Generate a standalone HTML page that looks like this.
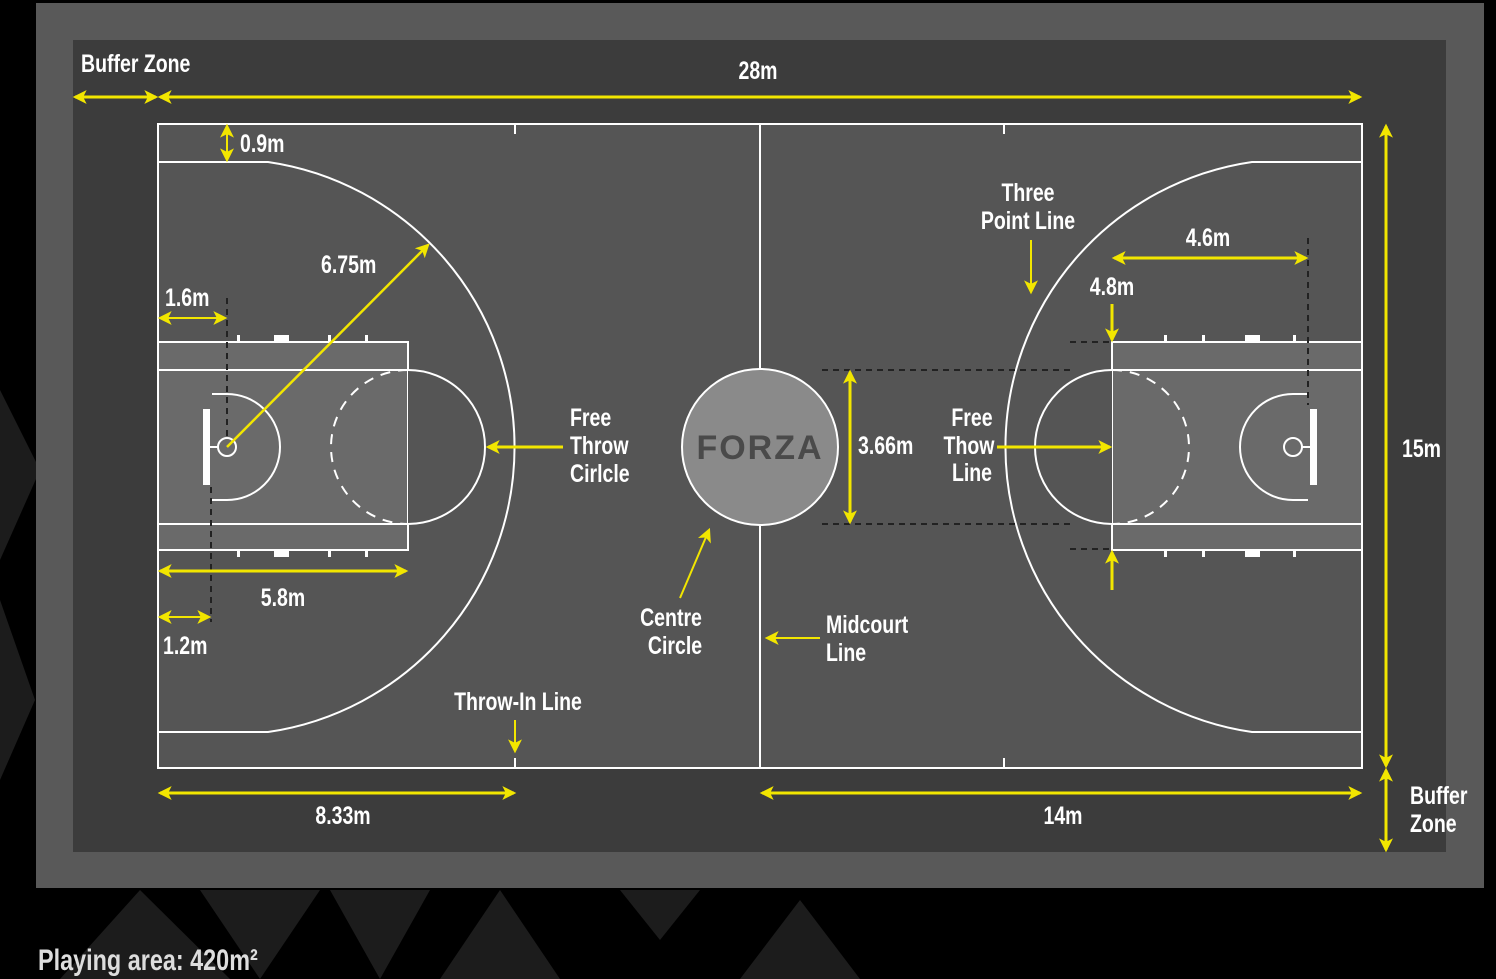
<!DOCTYPE html>
<html><head><meta charset="utf-8"><style>
html,body{margin:0;padding:0;background:#000;}
svg{display:block}
text{font-family:"Liberation Sans Narrow","Liberation Sans",sans-serif;font-weight:bold;fill:#fff;font-size:25px}
</style></head><body>
<svg id="court-svg" width="1496" height="979" viewBox="0 0 1496 979">
<defs>
<marker id="ah" viewBox="0 0 12 12" refX="10" refY="6" markerWidth="14" markerHeight="14" markerUnits="userSpaceOnUse" orient="auto-start-reverse">
<path d="M0,0 L12,6 L0,12 L3,6 Z" fill="#f2e600"/></marker>
</defs>
<rect width="1496" height="979" fill="#000"/>
<g fill="#1c1c1c">
<polygon points="0,390 40,470 0,560"/><polygon points="0,600 35,700 0,780"/>
<polygon points="140,890 230,979 60,979"/><polygon points="200,890 320,890 260,979"/>
<polygon points="330,890 430,890 380,979"/><polygon points="440,979 500,890 560,979"/>
<polygon points="620,890 700,890 660,940"/><polygon points="740,979 800,900 860,979"/>
</g>
<rect x="36" y="3" width="1448" height="885" fill="#595959"/>
<rect x="73" y="40" width="1373" height="812" fill="#3c3c3c"/>
<rect x="158" y="124" width="1204" height="644" fill="#555" stroke="#fff" stroke-width="2"/>
<g fill="none" stroke="#fff" stroke-width="2">
<line x1="760" y1="124" x2="760" y2="768"/>
<line x1="515" y1="124" x2="515" y2="134"/><line x1="515" y1="758" x2="515" y2="768"/>
<line x1="1004" y1="124" x2="1004" y2="134"/><line x1="1004" y1="758" x2="1004" y2="768"/>
<path d="M158,162 L268,162 A288,288 0 0 1 268,732 L158,732"/>
<path d="M1362,162 L1252,162 A288,288 0 0 0 1252,732 L1362,732"/>
</g>
<g>
<rect x="158" y="342" width="250" height="208" fill="#6a6a6a" stroke="#fff" stroke-width="2"/>
<line x1="158" y1="370" x2="408" y2="370" stroke="#fff" stroke-width="2"/>
<line x1="158" y1="524" x2="408" y2="524" stroke="#fff" stroke-width="2"/>
<path d="M408,370 A77,77 0 0 1 408,524" fill="#555" stroke="#fff" stroke-width="2"/>
<path d="M408,370 A77,77 0 0 0 408,524" fill="none" stroke="#fff" stroke-width="2" stroke-dasharray="10,8"/>
<path d="M212,394 L227,394 A53,53 0 0 1 227,500 L212,500" fill="none" stroke="#fff" stroke-width="2"/>
<rect x="203" y="409" width="7" height="76" fill="#fff"/>
<line x1="210" y1="447" x2="218" y2="447" stroke="#fff" stroke-width="2"/>
<circle cx="227" cy="447" r="9" fill="none" stroke="#fff" stroke-width="2"/>
<g fill="#fff"><rect x="237" y="335" width="3" height="7"/><rect x="274" y="335" width="15" height="7"/><rect x="328" y="335" width="3" height="7"/><rect x="365" y="335" width="3" height="7"/>
<rect x="237" y="550" width="3" height="7"/><rect x="274" y="550" width="15" height="7"/><rect x="328" y="550" width="3" height="7"/><rect x="365" y="550" width="3" height="7"/></g>
</g>
<g>
<rect x="1112" y="342" width="250" height="208" fill="#6a6a6a" stroke="#fff" stroke-width="2"/>
<line x1="1112" y1="370" x2="1362" y2="370" stroke="#fff" stroke-width="2"/>
<line x1="1112" y1="524" x2="1362" y2="524" stroke="#fff" stroke-width="2"/>
<path d="M1112,370 A77,77 0 0 0 1112,524" fill="#555" stroke="#fff" stroke-width="2"/>
<path d="M1112,370 A77,77 0 0 1 1112,524" fill="none" stroke="#fff" stroke-width="2" stroke-dasharray="10,8"/>
<path d="M1308,394 L1293,394 A53,53 0 0 0 1293,500 L1308,500" fill="none" stroke="#fff" stroke-width="2"/>
<rect x="1310" y="409" width="7" height="76" fill="#fff"/>
<line x1="1302" y1="447" x2="1310" y2="447" stroke="#fff" stroke-width="2"/>
<circle cx="1293" cy="447" r="9" fill="none" stroke="#fff" stroke-width="2"/>
<g fill="#fff"><rect x="1164" y="335" width="3" height="7"/><rect x="1202" y="335" width="3" height="7"/><rect x="1245" y="335" width="15" height="7"/><rect x="1293" y="335" width="3" height="7"/>
<rect x="1164" y="550" width="3" height="7"/><rect x="1202" y="550" width="3" height="7"/><rect x="1245" y="550" width="15" height="7"/><rect x="1293" y="550" width="3" height="7"/></g>
</g>
<circle cx="760" cy="447" r="78" fill="#8a8a8a" stroke="#fff" stroke-width="2"/>
<text x="760" y="459" text-anchor="middle" class="noshrink" style="font-family:'Liberation Sans',sans-serif;font-size:34px;fill:#4a4a4a;letter-spacing:2px">FORZA</text>
<g stroke="#222" stroke-width="2" stroke-dasharray="6,5" fill="none">
<line x1="227" y1="298" x2="227" y2="440"/><line x1="211" y1="487" x2="211" y2="622"/>
<line x1="822" y1="370" x2="1070" y2="370"/><line x1="822" y1="524" x2="1070" y2="524"/>
<line x1="1070" y1="342" x2="1112" y2="342"/><line x1="1070" y1="549" x2="1112" y2="549"/>
<line x1="1308" y1="238" x2="1308" y2="405"/>
</g>
<g stroke="#f2e600" stroke-width="3">
<line x1="75" y1="97" x2="156" y2="97" marker-start="url(#ah)" marker-end="url(#ah)"/>
<line x1="160" y1="97" x2="1360" y2="97" marker-start="url(#ah)" marker-end="url(#ah)"/>
<line x1="227" y1="126" x2="227" y2="160" stroke-width="2" marker-start="url(#ah)" marker-end="url(#ah)"/>
<line x1="227" y1="447" x2="428" y2="245" stroke-width="2.5" marker-end="url(#ah)"/>
<line x1="160" y1="318" x2="225" y2="318" stroke-width="2" marker-start="url(#ah)" marker-end="url(#ah)"/>
<line x1="160" y1="571" x2="406" y2="571" marker-start="url(#ah)" marker-end="url(#ah)"/>
<line x1="160" y1="617" x2="209" y2="617" stroke-width="2" marker-start="url(#ah)" marker-end="url(#ah)"/>
<line x1="160" y1="793" x2="514" y2="793" marker-start="url(#ah)" marker-end="url(#ah)"/>
<line x1="762" y1="793" x2="1360" y2="793" marker-start="url(#ah)" marker-end="url(#ah)"/>
<line x1="1386" y1="126" x2="1386" y2="766" marker-start="url(#ah)" marker-end="url(#ah)"/>
<line x1="1386" y1="770" x2="1386" y2="850" marker-start="url(#ah)" marker-end="url(#ah)"/>
<line x1="850" y1="372" x2="850" y2="522" marker-start="url(#ah)" marker-end="url(#ah)"/>
<line x1="1114" y1="258" x2="1306" y2="258" marker-start="url(#ah)" marker-end="url(#ah)"/>
<line x1="1112" y1="304" x2="1112" y2="340" marker-end="url(#ah)"/>
<line x1="1112" y1="590" x2="1112" y2="552" marker-end="url(#ah)"/>
<line x1="1031" y1="240" x2="1031" y2="292" stroke-width="2" marker-end="url(#ah)"/>
<line x1="563" y1="447" x2="488" y2="447" marker-end="url(#ah)"/>
<line x1="997" y1="447" x2="1110" y2="447" marker-end="url(#ah)"/>
<line x1="680" y1="598" x2="709" y2="530" stroke-width="2" marker-end="url(#ah)"/>
<line x1="820" y1="638" x2="767" y2="638" stroke-width="2" marker-end="url(#ah)"/>
<line x1="515" y1="720" x2="515" y2="751" stroke-width="2" marker-end="url(#ah)"/>
</g>
<g>
<text x="81" y="72">Buffer Zone</text>
<text x="758" y="79" text-anchor="middle">28m</text>
<text x="240" y="152">0.9m</text>
<text x="321" y="273">6.75m</text>
<text x="165" y="306">1.6m</text>
<text x="283" y="606" text-anchor="middle">5.8m</text>
<text x="163" y="654">1.2m</text>
<text x="343" y="824" text-anchor="middle">8.33m</text>
<text x="1063" y="824" text-anchor="middle">14m</text>
<text x="1402" y="457">15m</text>
<text x="1410" y="804">Buffer</text><text x="1410" y="832">Zone</text>
<text x="858" y="454">3.66m</text>
<text x="1208" y="246" text-anchor="middle">4.6m</text>
<text x="1112" y="295" text-anchor="middle">4.8m</text>
<text x="1028" y="201" text-anchor="middle">Three</text><text x="1028" y="229" text-anchor="middle">Point Line</text>
<text x="570" y="426">Free</text><text x="570" y="454">Throw</text><text x="570" y="482">Cirlcle</text>
<text x="972" y="426" text-anchor="middle">Free</text><text x="969" y="454" text-anchor="middle">Thow</text><text x="972" y="481" text-anchor="middle">Line</text>
<text x="671" y="626" text-anchor="middle">Centre</text><text x="675" y="654" text-anchor="middle">Circle</text>
<text x="826" y="633">Midcourt</text><text x="826" y="661">Line</text>
<text x="518" y="710" text-anchor="middle">Throw-In Line</text>
<text x="38" y="970" style="font-size:30px;fill:#ddd">Playing area: 420m²</text>
</g>
</svg>
<script>
document.querySelectorAll('#court-svg text').forEach(function(t){
  if (t.classList.contains('noshrink')) return;
  var w = t.getComputedTextLength();
  t.setAttribute('textLength', (w*0.78).toFixed(1));
  t.setAttribute('lengthAdjust', 'spacingAndGlyphs');
});
</script>
</body></html>
